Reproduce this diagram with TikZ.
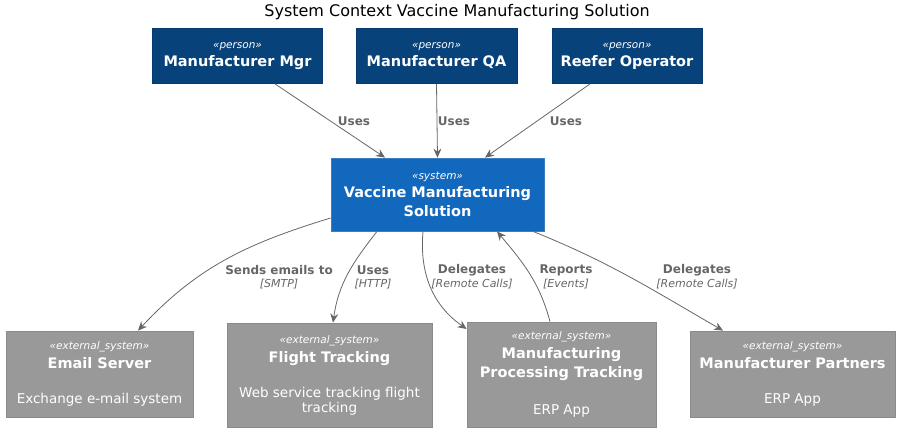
\documentclass[tikz,border=0pt]{standalone}
\usepackage{fontspec}
\setmainfont{DejaVu Sans}
\usetikzlibrary{arrows.meta}

\definecolor{personfill}{HTML}{08427B}
\definecolor{personline}{HTML}{073B6F}
\definecolor{sysfill}{HTML}{1168BD}
\definecolor{sysline}{HTML}{3C7FC0}
\definecolor{extfill}{HTML}{999999}
\definecolor{extline}{HTML}{8A8A8A}
\definecolor{relcol}{HTML}{666666}

\newcommand{\stereo}{\fontsize{10.5}{16}\selectfont\itshape}
\newcommand{\elname}{\fontsize{14.5}{19}\selectfont\bfseries}
\newcommand{\eldesc}{\fontsize{13.5}{16}\selectfont}

\tikzset{
  box/.style={text=white, align=center, inner sep=0pt, line width=0.8pt},
  personbox/.style={box, draw=personline, fill=personfill, minimum height=55pt},
  sysbox/.style={box, draw=sysline, fill=sysfill, minimum height=73pt},
  extbox/.style={box, draw=extline, fill=extfill},
  rel/.style={draw=relcol, line width=0.8pt, -{Stealth[length=9pt,width=8pt,inset=3pt]}},
  lbl/.style={text=relcol, align=center, inner sep=0pt, font=\fontsize{12}{14}\selectfont\bfseries},
  tech/.style={text=relcol, inner sep=0pt, font=\fontsize{11}{13}\selectfont\itshape}
}

\begin{document}
\begin{tikzpicture}[x=1pt, y=-1pt]
  \useasboundingbox (0,0) rectangle (904,436);
  % title
  \node (title) at (457,12) {\fontsize{16}{18}\selectfont System Context Vaccine Manufacturing Solution};
  % persons
  \node[personbox, minimum width=170pt] (mgr) at (237.5,56) {\stereo «person»\\[4pt]\elname Manufacturer Mgr};
  \node[personbox, minimum width=161pt] (qa) at (436.5,56) {\stereo «person»\\[4pt]\elname Manufacturer QA};
  \node[personbox, minimum width=150pt] (reefer) at (627,56) {\stereo «person»\\[4pt]\elname Reefer Operator};
  % system
  \node[sysbox, minimum width=213pt] (vms) at (437.5,194.5)
    {\stereo «system»\\[4pt]\elname Vaccine Manufacturing\\[4pt]\elname Solution};
  % external systems
  \node[extbox, minimum width=187pt, minimum height=86pt] (email) at (99.5,374)
    {\stereo «external\_system»\\[4pt]\elname Email Server\\[23pt]\eldesc Exchange e-mail system};
  \node[extbox, minimum width=205pt, minimum height=104pt] (flight) at (329.5,375)
    {\stereo «external\_system»\\[5pt]\elname Flight Tracking\\[21pt]\eldesc Web service tracking flight\\\eldesc tracking};
  \node[extbox, minimum width=189pt, minimum height=105pt] (mpt) at (561.5,374.5)
    {\stereo «external\_system»\\[4pt]\elname Manufacturing\\[4pt]\elname Processing Tracking\\[23pt]\eldesc ERP App};
  \node[extbox, minimum width=205pt, minimum height=86pt] (partners) at (792.5,374)
    {\stereo «external\_system»\\[4pt]\elname Manufacturer Partners\\[23pt]\eldesc ERP App};

  % persons -> system
  \draw[rel] ([xshift=37.5pt]mgr.south) -- ([xshift=-52.5pt]vms.north);
  \draw[rel] (qa.south) -- (vms.north);
  \draw[rel] ([xshift=-37pt]reefer.south) -- ([xshift=47.5pt]vms.north);
  \node[lbl] (uses1) at (354,121) {Uses};
  \node[lbl] (uses2) at (454,121) {Uses};
  \node[lbl] (uses3) at (566,121) {Uses};

  % system -> external systems
  \draw[rel] ([yshift=-23.5pt]vms.west) to[out=197, in=47] ([xshift=38.5pt]email.north);
  \draw[rel] ([xshift=-60.5pt]vms.south) to[out=232, in=82] ([xshift=3.5pt]flight.north);
  \draw[rel] ([xshift=-14.5pt]vms.south) to[out=265, in=145] ([yshift=45.5pt]mpt.west);
  \draw[rel] ([xshift=-11.5pt]mpt.north) to[out=105, in=310] ([xshift=59.5pt]vms.south);
  \draw[rel] ([xshift=95.5pt]vms.south) to[out=-22, in=150] ([xshift=-69.5pt]partners.north);

  \node[lbl] (sends) at (279,270) {Sends emails to};
  \node[tech] (smtp) at (279,284) {[SMTP]};
  \node[lbl] (uses4) at (373,270) {Uses};
  \node[tech] (http) at (373,284) {[HTTP]};
  \node[lbl] (deleg1) at (472,270) {Delegates};
  \node[tech] (remote1) at (472,284) {[Remote Calls]};
  \node[lbl] (reports) at (566,270) {Reports};
  \node[tech] (events) at (566,284) {[Events]};
  \node[lbl] (deleg2) at (697,270) {Delegates};
  \node[tech] (remote2) at (697,284) {[Remote Calls]};
\end{tikzpicture}
\end{document}
